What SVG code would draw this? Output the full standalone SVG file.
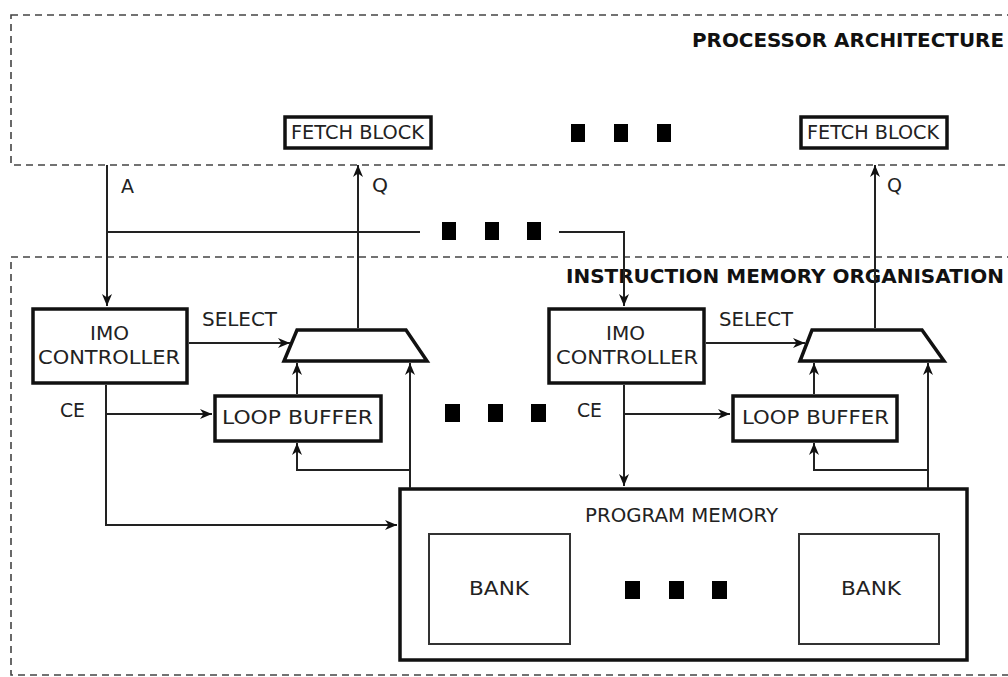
<svg xmlns="http://www.w3.org/2000/svg" width="1008" height="677" viewBox="0 0 1008 677">
<defs>
<marker id="arr" markerUnits="userSpaceOnUse" markerWidth="14" markerHeight="12" refX="12" refY="5" orient="auto">
<path d="M0,0 L12,5 L0,10 L3.5,5 z" fill="#111"/>
</marker>
<style>
.region{fill:none;stroke:#444;stroke-width:1.6;stroke-dasharray:7,5}
.blk{fill:#fff;stroke:#111;stroke-width:3.5}
.bank{fill:#fff;stroke:#333;stroke-width:2}
.wire{fill:none;stroke:#222;stroke-width:2}
.arrow{marker-end:url(#arr)}
.dot{fill:#000}
.lbl{font-family:"DejaVu Sans",sans-serif;font-size:19px;fill:#222}
.title{font-family:"DejaVu Sans",sans-serif;font-size:19px;font-weight:bold;fill:#111}
</style>
</defs>
<rect width="1008" height="677" fill="#fff"/>

<g id="processor-architecture">
<rect class="region" x="11" y="15" width="1010" height="150"/>
<text class="title" x="692" y="47" textLength="312" lengthAdjust="spacingAndGlyphs">PROCESSOR ARCHITECTURE</text>
</g>
<g id="instruction-memory-organisation">
<rect class="region" x="11" y="257" width="1010" height="418"/>
<text class="title" x="566" y="283" textLength="438" lengthAdjust="spacingAndGlyphs">INSTRUCTION MEMORY ORGANISATION</text>
</g>

<g id="fetch-block-1">
<rect class="blk" x="285" y="117" width="146" height="31"/>
<text class="lbl" x="291" y="139" textLength="133" lengthAdjust="spacingAndGlyphs">FETCH BLOCK</text>
</g>
<g id="fetch-block-2">
<rect class="blk" x="801" y="117" width="146" height="31"/>
<text class="lbl" x="807" y="139" textLength="132" lengthAdjust="spacingAndGlyphs">FETCH BLOCK</text>
</g>

<g id="imo-controller-1">
<rect class="blk" x="33" y="309" width="154" height="74"/>
<text class="lbl" x="90" y="340" textLength="39" lengthAdjust="spacingAndGlyphs">IMO</text>
<text class="lbl" x="38" y="364" textLength="142" lengthAdjust="spacingAndGlyphs">CONTROLLER</text>
</g>
<g id="imo-controller-2">
<rect class="blk" x="549" y="309" width="155" height="74"/>
<text class="lbl" x="606" y="340" textLength="39" lengthAdjust="spacingAndGlyphs">IMO</text>
<text class="lbl" x="556" y="364" textLength="142" lengthAdjust="spacingAndGlyphs">CONTROLLER</text>
</g>

<g id="mux-1">
<polygon class="blk" points="297,330 406,330 427,361 284,361"/>
</g>
<g id="mux-2">
<polygon class="blk" points="812,330 922,330 944,361 800,361"/>
</g>

<g id="loop-buffer-1">
<rect class="blk" x="215" y="396" width="166" height="45"/>
<text class="lbl" x="222" y="424" textLength="151" lengthAdjust="spacingAndGlyphs">LOOP BUFFER</text>
</g>
<g id="loop-buffer-2">
<rect class="blk" x="733" y="396" width="164" height="45"/>
<text class="lbl" x="742" y="424" textLength="147" lengthAdjust="spacingAndGlyphs">LOOP BUFFER</text>
</g>

<g id="program-memory">
<rect class="blk" x="400" y="489" width="567" height="171"/>
<text class="lbl" x="585" y="522" textLength="193" lengthAdjust="spacingAndGlyphs">PROGRAM MEMORY</text>
</g>
<g id="bank-1">
<rect class="bank" x="429" y="534" width="141" height="110"/>
<text class="lbl" x="469" y="595" textLength="60" lengthAdjust="spacingAndGlyphs">BANK</text>
</g>
<g id="bank-2">
<rect class="bank" x="799" y="534" width="140" height="110"/>
<text class="lbl" x="841" y="595" textLength="60" lengthAdjust="spacingAndGlyphs">BANK</text>
</g>

<g id="ellipses">
<rect class="dot" x="571" y="124" width="14" height="18"/>
<rect class="dot" x="614" y="124" width="14" height="18"/>
<rect class="dot" x="657" y="124" width="14" height="18"/>
<rect class="dot" x="442" y="222" width="14" height="18"/>
<rect class="dot" x="485" y="222" width="14" height="18"/>
<rect class="dot" x="527" y="222" width="14" height="18"/>
<rect class="dot" x="445" y="404" width="15" height="18"/>
<rect class="dot" x="488" y="404" width="15" height="18"/>
<rect class="dot" x="531" y="404" width="15" height="18"/>
<rect class="dot" x="625" y="581" width="15" height="18"/>
<rect class="dot" x="669" y="581" width="15" height="18"/>
<rect class="dot" x="712" y="581" width="15" height="18"/>
</g>

<g id="connectors">
<path class="wire arrow" d="M107,165 V306"/>
<path class="wire" d="M107,232 H420"/>
<path class="wire arrow" d="M559,232 H624 V306"/>
<path class="wire arrow" d="M189,343 H290"/>
<path class="wire arrow" d="M706,343 H805"/>
<path class="wire arrow" d="M358,328 V165"/>
<path class="wire arrow" d="M875,328 V165"/>
<path class="wire arrow" d="M106,385 V525 H397"/>
<path class="wire arrow" d="M106,414 H212"/>
<path class="wire arrow" d="M624,385 V486"/>
<path class="wire arrow" d="M624,414 H730"/>
<path class="wire arrow" d="M297,394 V363"/>
<path class="wire arrow" d="M814,394 V363"/>
<path class="wire arrow" d="M410,488 V363"/>
<path class="wire arrow" d="M410,470 H297 V443"/>
<path class="wire arrow" d="M928,488 V363"/>
<path class="wire arrow" d="M928,470 H814 V443"/>
<text class="lbl" x="121" y="193" textLength="13" lengthAdjust="spacingAndGlyphs">A</text>
<text class="lbl" x="372" y="192" textLength="16" lengthAdjust="spacingAndGlyphs">Q</text>
<text class="lbl" x="887" y="192" textLength="15" lengthAdjust="spacingAndGlyphs">Q</text>
<text class="lbl" x="202" y="326" textLength="75" lengthAdjust="spacingAndGlyphs">SELECT</text>
<text class="lbl" x="719" y="326" textLength="74" lengthAdjust="spacingAndGlyphs">SELECT</text>
<text class="lbl" x="60" y="417" textLength="25" lengthAdjust="spacingAndGlyphs">CE</text>
<text class="lbl" x="577" y="417" textLength="25" lengthAdjust="spacingAndGlyphs">CE</text>
</g>
</svg>
